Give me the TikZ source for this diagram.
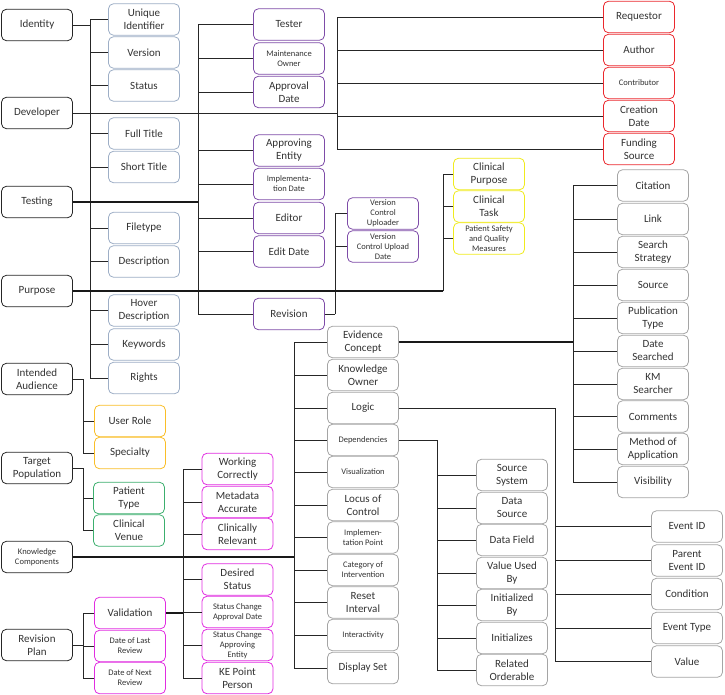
\documentclass[tikz,border=0pt]{standalone}
\usepackage{fontspec}
\setmainfont{Carlito}
\definecolor{metablue}{RGB}{157,174,198}
\definecolor{kepurple}{RGB}{126,76,168}
\definecolor{kered}{RGB}{235,40,45}
\definecolor{keyellow}{RGB}{240,235,30}
\definecolor{keorange}{RGB}{250,190,40}
\definecolor{kegreen}{RGB}{60,175,110}
\definecolor{kepink}{RGB}{225,45,225}
\definecolor{kegray}{RGB}{165,165,165}
\tikzset{
  box/.style={draw, rounded corners=5pt, minimum width=71pt, minimum height=31.5pt,
    align=center, inner sep=1pt, text=black!80, line width=0.8pt, fill=white,
    font=\fontsize{11}{13}\selectfont},
  small/.style={font=\fontsize{8.5}{10}\selectfont},
  mainbox/.style={box, draw=black!85},
  metabox/.style={box, draw=metablue},
  purplebox/.style={box, draw=kepurple},
  redbox/.style={box, draw=kered},
  yellowbox/.style={box, draw=keyellow},
  orangebox/.style={box, draw=keorange},
  greenbox/.style={box, draw=kegreen},
  pinkbox/.style={box, draw=kepink},
  graybox/.style={box, draw=kegray},
  link/.style={line width=0.9pt, draw=black!85},
  stem/.style={line width=1.8pt, draw=black!90}
}
\begin{document}
\begin{tikzpicture}[x=1pt, y=-1pt]
  \useasboundingbox (0,0) rectangle (725,695);

  % ==== left column ====
  \node[mainbox] (identity)   at (37,25)  {Identity};
  \node[mainbox] (developer)  at (37,113) {Developer};
  \node[mainbox] (testing)    at (37,202) {Testing};
  \node[mainbox] (purpose)    at (37,291) {Purpose};
  \node[mainbox] (audience)   at (37,379) {Intended\\Audience};
  \node[mainbox] (population) at (37,468) {Target\\Population};
  \node[mainbox, small] (components) at (37,557) {Knowledge\\Components};
  \node[mainbox] (revplan)    at (37,645) {Revision\\Plan};

  % ==== identity ====
  \node[metabox] (uid)         at (144,19.5)  {Unique\\Identifier};
  \node[metabox] (version)     at (144,52.5)  {Version};
  \node[metabox] (status)      at (144,85.5)  {Status};
  \node[metabox] (fulltitle)   at (144,133.5) {Full Title};
  \node[metabox] (shorttitle)  at (144,167)   {Short Title};
  \node[metabox] (filetype)    at (144,228)   {Filetype};
  \node[metabox] (description) at (144,261.5) {Description};
  \node[metabox] (hover)       at (144,310.5) {Hover\\Description};
  \node[metabox] (keywords)    at (144,344.5) {Keywords};
  \node[metabox] (rights)      at (144,378)   {Rights};

  % ==== developer ====
  \node[redbox] (requestor)    at (639,17)  {Requestor};
  \node[redbox] (author)       at (639,50)  {Author};
  \node[redbox, small] (contributor) at (639,83) {Contributor};
  \node[redbox] (creationdate) at (639,116) {Creation\\Date};
  \node[redbox] (funding)      at (639,149) {Funding\\Source};

  % ==== testing ====
  \node[purplebox] (tester)          at (289,24.5)  {Tester};
  \node[purplebox, small] (maintowner) at (289,58.5) {Maintenance\\Owner};
  \node[purplebox] (approvaldate)    at (289,92)    {Approval\\Date};
  \node[purplebox] (approvingentity) at (289,150.5) {Approving\\Entity};
  \node[purplebox, small] (impldate) at (289,184)   {Implementa-\\tion Date};
  \node[purplebox] (editor)          at (289,218)   {Editor};
  \node[purplebox] (editdate)        at (289,251.5) {Edit Date};
  \node[purplebox] (revision)        at (289,314)   {Revision};
  \node[purplebox, small] (vcu)      at (383,213.5) {Version\\Control\\Uploader};
  \node[purplebox, small] (vcud)     at (383,246.5) {Version\\Control Upload\\Date};

  % ==== purpose ====
  \node[yellowbox] (clinpurpose)    at (489,174)   {Clinical\\Purpose};
  \node[yellowbox] (clintask)       at (489,206.5) {Clinical\\Task};
  \node[yellowbox, small] (safety)  at (489,238.5) {Patient Safety\\and Quality\\Measures};

  % ==== intended audience / target population ====
  \node[orangebox] (userrole)    at (130,421)   {User Role};
  \node[orangebox] (specialty)   at (130,453)   {Specialty};
  \node[greenbox] (patienttype)  at (129,498)   {Patient\\Type};
  \node[greenbox] (clinvenue)    at (129,530.5) {Clinical\\Venue};

  % ==== knowledge components ====
  \node[graybox] (evidence)       at (363,342)   {Evidence\\Concept};
  \node[graybox] (kowner)         at (363,375)   {Knowledge\\Owner};
  \node[graybox] (logic)          at (363,408)   {Logic};
  \node[graybox, small] (dependencies)  at (363,440)   {Dependencies};
  \node[graybox, small] (visualization) at (363,472)   {Visualization};
  \node[graybox] (locus)          at (363,505)   {Locus of\\Control};
  \node[graybox, small] (implpoint)     at (363,537.5) {Implemen-\\tation Point};
  \node[graybox, small] (category)      at (363,570)   {Category of\\Intervention};
  \node[graybox] (reset)          at (363,602.5) {Reset\\Interval};
  \node[graybox, small] (interactivity) at (363,635)   {Interactivity};
  \node[graybox] (displayset)     at (363,668)   {Display Set};

  % evidence concept
  \node[graybox] (citation)     at (653,185.5) {Citation};
  \node[graybox] (link)         at (653,219)   {Link};
  \node[graybox] (search)       at (653,252)   {Search\\Strategy};
  \node[graybox] (source)       at (653,285)   {Source};
  \node[graybox] (pubtype)      at (653,318)   {Publication\\Type};
  \node[graybox] (datesearched) at (653,351)   {Date\\Searched};
  \node[graybox] (kmsearcher)   at (653,384)   {KM\\Searcher};
  \node[graybox] (comments)     at (653,416.5) {Comments};
  \node[graybox] (method)       at (653,449)   {Method of\\Application};
  \node[graybox] (visibility)   at (653,482)   {Visibility};

  % dependencies
  \node[graybox] (sourcesys)    at (512,475)   {Source\\System};
  \node[graybox] (datasource)   at (512,508)   {Data\\Source};
  \node[graybox] (datafield)    at (512,540)   {Data Field};
  \node[graybox] (valueused)    at (512,573)   {Value Used\\By};
  \node[graybox] (initby)       at (512,605)   {Initialized\\By};
  \node[graybox] (initializes)  at (512,638)   {Initializes};
  \node[graybox] (relorderable) at (512,670)   {Related\\Orderable};

  % logic
  \node[graybox] (eventid)   at (687,526.5) {Event ID};
  \node[graybox] (parentid)  at (687,560.5) {Parent\\Event ID};
  \node[graybox] (condition) at (687,594)   {Condition};
  \node[graybox] (eventtype) at (687,628)   {Event Type};
  \node[graybox] (value)     at (687,661.5) {Value};

  % ==== revision plan ====
  \node[pinkbox] (validation)        at (130,613) {Validation};
  \node[pinkbox, small] (lastreview) at (130,646) {Date of Last\\Review};
  \node[pinkbox, small] (nextreview) at (130,678) {Date of Next\\Review};
  \node[pinkbox] (working)   at (237.5,469)   {Working\\Correctly};
  \node[pinkbox] (metadata)  at (237.5,502)   {Metadata\\Accurate};
  \node[pinkbox] (clinrel)   at (237.5,534)   {Clinically\\Relevant};
  \node[pinkbox] (desired)   at (237.5,579.5) {Desired\\Status};
  \node[pinkbox, small] (scadate)   at (237.5,612) {Status Change\\Approval Date};
  \node[pinkbox, small] (scaentity) at (237.5,645) {Status Change\\Approving\\Entity};
  \node[pinkbox] (kepoint)   at (237.5,678)   {KE Point\\Person};

  % ==== connectors ====
  \coordinate (metabus)   at (90,0);
  \coordinate (leftbus)   at (83,0);
  \coordinate (valbus)    at (183,0);
  \coordinate (purplebus) at (198,0);
  \coordinate (kcbus)     at (294,0);
  \coordinate (vcbus)     at (335,0);
  \coordinate (redbus)    at (337,0);
  \coordinate (depbus)    at (437,0);
  \coordinate (yellowbus) at (443,0);
  \coordinate (logicbus)  at (555,0);
  \coordinate (ecbus)     at (573,0);

  \draw[link] (identity.east) -- (identity.east -| metabus);
  \foreach \n in {uid,version,status,fulltitle,shorttitle,filetype,description,hover,keywords,rights}
    \draw[link] (identity.east -| metabus) |- (\n.west);

  \draw[link] (developer.east) -- (developer.east -| redbus);
  \foreach \n in {requestor,author,contributor,creationdate,funding}
    \draw[link] (developer.east -| redbus) |- (\n.west);

  \draw[stem] (testing.east) -- (testing.east -| purplebus);
  \foreach \n in {tester,maintowner,approvaldate,approvingentity,impldate,editor,editdate,revision}
    \draw[link] (testing.east -| purplebus) |- (\n.west);
  \draw[link] (revision.east) -- (revision.east -| vcbus);
  \foreach \n in {vcu,vcud}
    \draw[link] (revision.east -| vcbus) |- (\n.west);

  \draw[stem] (purpose.east) -- (purpose.east -| yellowbus);
  \foreach \n in {clinpurpose,clintask,safety}
    \draw[link] (purpose.east -| yellowbus) |- (\n.west);

  \draw[link] (audience.east) -- (audience.east -| leftbus);
  \foreach \n in {userrole,specialty}
    \draw[link] (audience.east -| leftbus) |- (\n.west);
  \draw[link] (population.east) -- (population.east -| leftbus);
  \foreach \n in {patienttype,clinvenue}
    \draw[link] (population.east -| leftbus) |- (\n.west);

  \draw[stem] (components.east) -- (components.east -| kcbus);
  \foreach \n in {evidence,kowner,logic,dependencies,visualization,locus,implpoint,category,reset,interactivity,displayset}
    \draw[link] (components.east -| kcbus) |- (\n.west);

  \draw[stem] (evidence.east) -- (evidence.east -| ecbus);
  \foreach \n in {citation,link,search,source,pubtype,datesearched,kmsearcher,comments,method,visibility}
    \draw[link] (evidence.east -| ecbus) |- (\n.west);

  \draw[link] (logic.east) -- (logic.east -| logicbus);
  \foreach \n in {eventid,parentid,condition,eventtype,value}
    \draw[link] (logic.east -| logicbus) |- (\n.west);

  \draw[link] (dependencies.east) -- (dependencies.east -| depbus);
  \foreach \n in {sourcesys,datasource,datafield,valueused,initby,initializes,relorderable}
    \draw[link] (dependencies.east -| depbus) |- (\n.west);

  \draw[link] (revplan.east) -- (revplan.east -| leftbus);
  \foreach \n in {validation,lastreview,nextreview}
    \draw[link] (revplan.east -| leftbus) |- (\n.west);

  \draw[stem] (validation.east) -- (validation.east -| valbus);
  \foreach \n in {working,metadata,clinrel,desired,scadate,scaentity,kepoint}
    \draw[link] (validation.east -| valbus) |- (\n.west);
\end{tikzpicture}
\end{document}
